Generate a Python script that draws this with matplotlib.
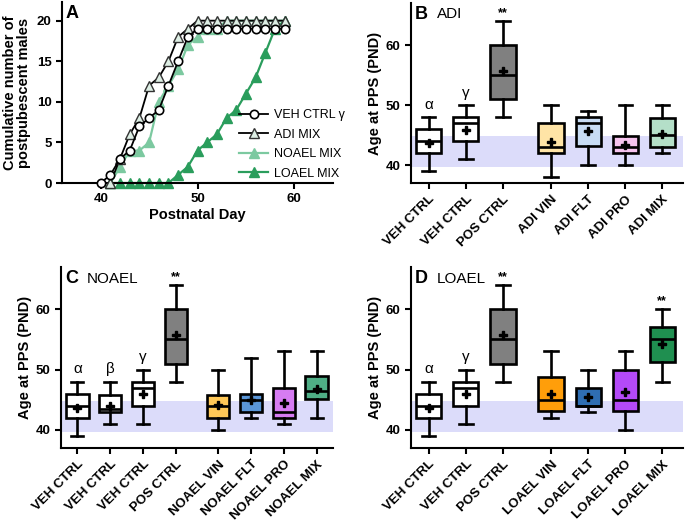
import matplotlib
matplotlib.use("Agg")
import matplotlib.pyplot as plt

plt.rcParams['font.family'] = ['Liberation Sans', 'DejaVu Sans']
plt.rcParams['axes.linewidth'] = 1.5

# ---------------- Panel A data ----------------
days = list(range(40, 60))
veh_ctrl = [0, 1, 3, 4, 7, 8, 9, 12, 15, 18, 19, 19, 19, 19, 19, 19, 19, 19, 19, 19]
adi_mix_days = list(range(41, 60))
adi_mix = [0, 3, 6, 8, 12, 13, 15, 18, 19, 20, 20, 20, 20, 20, 20, 20, 20, 20, 20]
noael_mix_days = list(range(41, 60))
noael_mix = [0, 2, 4, 4, 5, 10, 12, 14, 17, 18, 19, 19, 20, 20, 20, 20, 20, 20, 20]
loael_mix_days = list(range(41, 60))
loael_mix = [0, 0, 0, 0, 0, 0, 0, 1, 2, 4, 5, 6, 8, 9, 11, 13, 16, 19, 20]

# ---------------- Box panels data ----------------
# B: ADI
b_labels = ["VEH CTRL", "VEH CTRL", "POS CTRL", "ADI VIN", "ADI FLT", "ADI PRO", "ADI MIX"]
b_pos = [0, 1, 2, 3.3, 4.3, 5.3, 6.3]
b_whislo = [39, 41, 48, 38, 40, 40, 42]
b_q1 = [42, 44, 51, 42, 43.2, 42, 43]
b_med = [44, 47, 55, 43, 47, 43, 45]
b_q3 = [46, 48, 60, 47, 48, 44.8, 47.8]
b_whishi = [48, 50, 64, 50, 49, 50, 50]
b_mean = [43.7, 45.9, 55.7, 43.8, 45.6, 43.3, 45.2]
b_colors = ["white", "white", "#808080", "#FFE4A6", "#C8DCF4", "#F6C3EE", "#B4DFC8"]
b_marks = ["α", "γ", "**", "", "", "", ""]

# C: NOAEL
c_labels = ["VEH CTRL", "VEH CTRL", "VEH CTRL", "POS CTRL",
            "NOAEL VIN", "NOAEL FLT", "NOAEL PRO", "NOAEL MIX"]
c_pos = [0, 1, 2, 3, 4.3, 5.3, 6.3, 7.3]
c_whislo = [39, 41, 41, 48, 40, 42, 41, 42]
c_q1 = [42, 43, 44, 51, 42, 43, 42, 45.2]
c_med = [44, 43.5, 47, 55, 44, 45, 43, 46.5]
c_q3 = [46, 45.8, 48, 60, 45.8, 46, 47, 49]
c_whishi = [48, 48, 50, 64, 50, 52, 53, 53]
c_mean = [43.7, 44.0, 45.9, 55.7, 44.2, 45.0, 44.5, 46.8]
c_colors = ["white", "white", "white", "#808080", "#FFC857", "#5A96D8", "#D67CF2", "#4FAE86"]
c_marks = ["α", "β", "γ", "**", "", "", "", ""]

# D: LOAEL
d_labels = ["VEH CTRL", "VEH CTRL", "POS CTRL", "LOAEL VIN", "LOAEL FLT", "LOAEL PRO", "LOAEL MIX"]
d_pos = [0, 1, 2, 3.3, 4.3, 5.3, 6.3]
d_whislo = [39, 41, 48, 42, 43, 40, 48]
d_q1 = [42, 44, 51, 43.2, 44, 43.2, 51.2]
d_med = [44, 47, 55, 45, 44, 45, 55]
d_q3 = [46, 48, 60, 48.8, 47, 50, 57]
d_whishi = [48, 50, 64, 53, 50, 53, 60]
d_mean = [43.7, 45.9, 55.7, 45.9, 45.5, 46.3, 54.3]
d_colors = ["white", "white", "#808080", "#FF9E0A", "#2F6EB3", "#B44AF8", "#1F8F50"]
d_marks = ["α", "γ", "**", "", "", "", "**"]

band_lo, band_hi = 39.7, 44.8
band_color = "#DCDCFA"

fig = plt.figure(figsize=(6.85, 5.25), dpi=100)


def style_axes(ax):
    for s in ['top', 'right']:
        ax.spines[s].set_visible(False)
    ax.tick_params(axis='both', width=1.5, length=4, labelsize=9.5)
    for lab in ax.get_xticklabels() + ax.get_yticklabels():
        lab.set_fontweight('bold')


# ---------------- Panel A ----------------
axA = fig.add_axes([62 / 685, 1 - 183 / 525, 271 / 685, 181 / 525])
lw = 1.3
axA.plot(days, veh_ctrl, color='black', lw=lw, marker='o', ms=6, mfc='white',
         mec='black', mew=1.2, clip_on=False, zorder=4, label='VEH CTRL γ')
axA.plot(adi_mix_days, adi_mix, color='black', lw=lw, marker='^', ms=6.5, mfc='#DDEEE4',
         mec='#333333', mew=1.0, clip_on=False, zorder=3, label='ADI MIX')
axA.plot(noael_mix_days, noael_mix, color='#7CC9A0', lw=lw + 0.3, marker='^', ms=6.5,
         mfc='#7CC9A0', mec='#7CC9A0', clip_on=False, zorder=2, label='NOAEL MIX')
axA.plot(loael_mix_days, loael_mix, color='#2A9D5C', lw=lw + 0.3, marker='^', ms=6.5,
         mfc='#2A9D5C', mec='#2A9D5C', clip_on=False, zorder=2, label='LOAEL MIX')
axA.set_xlim(36, 64)
axA.set_ylim(0, 22.3)
axA.set_xticks([40, 50, 60])
axA.set_yticks([0, 5, 10, 15, 20])
style_axes(axA)
axA.set_xlabel("Postnatal Day", fontsize=10.5, fontweight='bold', labelpad=2)
axA.set_ylabel("Cumulative number of\npostpubescent males", fontsize=10.5,
               fontweight='bold', labelpad=4, linespacing=1.0)
axA.text(0.012, 0.985, "A", transform=axA.transAxes, fontsize=13, fontweight='bold',
         va='top', ha='left')
axA.legend(loc='lower right', bbox_to_anchor=(1.075, -0.03), frameon=False,
           fontsize=9, handlelength=2.3, labelspacing=0.6, borderpad=0.2,
           handletextpad=0.45)


def box_panel(rect, letter, title, labels, pos, whislo, q1, med, q3, whishi,
              mean, colors, marks, xlim):
    ax = fig.add_axes(rect)
    ax.axhspan(band_lo, band_hi, color=band_color, lw=0, zorder=0)
    stats = []
    for i in range(len(labels)):
        stats.append(dict(whislo=whislo[i], q1=q1[i], med=med[i], q3=q3[i],
                          whishi=whishi[i], mean=mean[i], fliers=[]))
    bp = ax.bxp(stats, positions=pos, widths=0.68, patch_artist=True,
                showmeans=True, showfliers=False,
                boxprops=dict(linewidth=1.9, edgecolor='black'),
                medianprops=dict(color='black', linewidth=1.9),
                whiskerprops=dict(color='black', linewidth=1.9),
                capprops=dict(color='black', linewidth=1.9),
                meanprops=dict(marker='P', markerfacecolor='black',
                               markeredgecolor='black', markersize=5.2),
                capwidths=0.36, manage_ticks=False)
    for patch, c in zip(bp['boxes'], colors):
        patch.set_facecolor(c)
        patch.set_zorder(2)
    for i, m in enumerate(marks):
        if m:
            if m == "**":
                ax.text(pos[i], whishi[i] + 0.3, m, ha='center', va='bottom',
                        fontsize=9, fontweight='bold')
            else:
                ax.text(pos[i], whishi[i] + 0.9, m, ha='center', va='bottom',
                        fontsize=11)
    ax.set_xlim(*xlim)
    ax.set_ylim(37, 67)
    ax.set_yticks([40, 50, 60])
    ax.set_xticks(pos)
    ax.set_xticklabels(labels, rotation=45, ha='right', rotation_mode='anchor')
    style_axes(ax)
    ax.set_ylabel("Age at PPS (PND)", fontsize=10.5, fontweight='bold', labelpad=3)
    ax.text(0.015, 0.985, letter, transform=ax.transAxes, fontsize=13,
            fontweight='bold', va='top', ha='left')
    ax.text(0.095, 0.975, title, transform=ax.transAxes, fontsize=11,
            va='top', ha='left')
    return ax


box_panel([411 / 685, 1 - 183 / 525, 272 / 685, 180 / 525], "B", "ADI",
          b_labels, b_pos, b_whislo, b_q1, b_med, b_q3, b_whishi, b_mean,
          b_colors, b_marks, (-0.48, 6.86))
box_panel([61 / 685, 1 - 448 / 525, 272 / 685, 181 / 525], "C", "NOAEL",
          c_labels, c_pos, c_whislo, c_q1, c_med, c_q3, c_whishi, c_mean,
          c_colors, c_marks, (-0.5, 7.8))
box_panel([411 / 685, 1 - 448 / 525, 272 / 685, 181 / 525], "D", "LOAEL",
          d_labels, d_pos, d_whislo, d_q1, d_med, d_q3, d_whishi, d_mean,
          d_colors, d_marks, (-0.48, 6.86))

fig.savefig("out.png", dpi=100)
